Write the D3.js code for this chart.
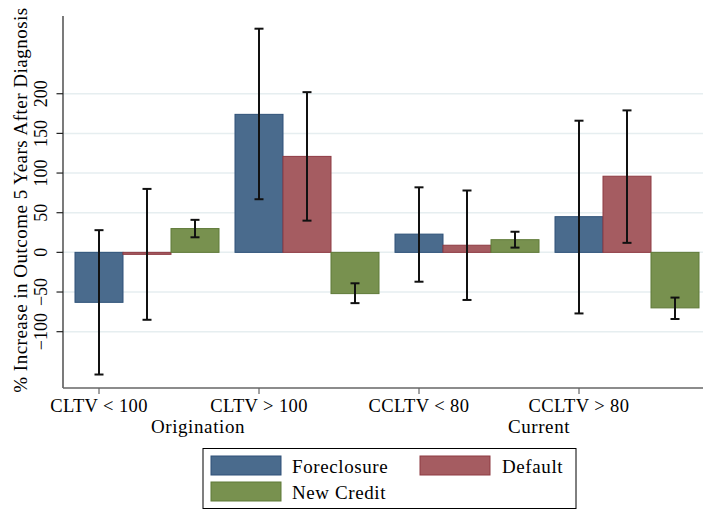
<!DOCTYPE html>
<html>
<head>
<meta charset="utf-8">
<script src="https://cdn.jsdelivr.net/npm/d3@7/dist/d3.min.js"></script>
<style>
  html, body { margin: 0; padding: 0; background: #fff; }
  text { font-family: "Liberation Serif", "DejaVu Serif", serif; fill: #000; }
</style>
</head>
<body>
<svg id="chart" width="703" height="510"></svg>
<script>
const categories = ["CLTV < 100", "CLTV > 100", "CCLTV < 80", "CCLTV > 80"];
const groupLabels = ["Origination", "Current"];
const series = ["Foreclosure", "Default", "New Credit"];
const colors = ["#4a6b8d", "#a55c61", "#78914f"];
const strokes = ["#2e5178", "#8e3a42", "#5f7a38"];
const foreclosure = [-63, 174, 23, 45];
const foreclosureLo = [-154, 67, -37, -77];
const foreclosureHi = [28, 282, 82, 166];
const defaultVals = [-2.5, 121, 9, 96];
const defaultLo = [-85, 40, -60, 12];
const defaultHi = [80, 202, 78, 179];
const newCredit = [30, -52, 16, -70];
const newCreditLo = [19, -64, 6, -84];
const newCreditHi = [41, -39, 26, -57];
const yTicks = [-100, -50, 0, 50, 100, 150, 200];

const values = [foreclosure, defaultVals, newCredit];
const los = [foreclosureLo, defaultLo, newCreditLo];
const his = [foreclosureHi, defaultHi, newCreditHi];

const svg = d3.select("#chart");
const mLeft = 63, mRight = 703, mTop = 16, mBottom = 388;

const y = d3.scaleLinear().domain([-171, 298]).range([mBottom, mTop]);
const x0 = d3.scaleBand().domain(categories).range([67, 707]).padding(0);
const x1 = d3.scaleBand().domain(series).range([8, 152]).padding(0);

// grid
svg.append("g").selectAll("line").data(yTicks).join("line")
  .attr("x1", mLeft).attr("x2", mRight)
  .attr("y1", d => y(d)).attr("y2", d => y(d))
  .attr("stroke", "#e6eef0").attr("stroke-width", 1.5);

// bars
const data = [];
categories.forEach((c, i) => series.forEach((s, j) => data.push({c, s, j, v: values[j][i], lo: los[j][i], hi: his[j][i]})));

svg.append("g").selectAll("rect").data(data).join("rect")
  .attr("x", d => x0(d.c) + x1(d.s))
  .attr("width", x1.bandwidth())
  .attr("y", d => y(Math.max(0, d.v)))
  .attr("height", d => Math.abs(y(d.v) - y(0)))
  .attr("fill", d => colors[d.j])
  .attr("stroke", d => strokes[d.j]).attr("stroke-width", 1);

// error bars
const eb = svg.append("g").attr("stroke", "#111").attr("stroke-width", 2);
data.forEach(d => {
  const cx = x0(d.c) + x1(d.s) + x1.bandwidth() / 2;
  eb.append("line").attr("x1", cx).attr("x2", cx).attr("y1", y(d.lo)).attr("y2", y(d.hi));
  eb.append("line").attr("x1", cx - 4.5).attr("x2", cx + 4.5).attr("y1", y(d.lo)).attr("y2", y(d.lo));
  eb.append("line").attr("x1", cx - 4.5).attr("x2", cx + 4.5).attr("y1", y(d.hi)).attr("y2", y(d.hi));
});

// y axis
svg.append("line").attr("x1", mLeft).attr("x2", mLeft).attr("y1", mTop).attr("y2", mBottom)
  .attr("stroke", "#222").attr("stroke-width", 1.2);
svg.append("g").selectAll("line").data(yTicks).join("line")
  .attr("x1", mLeft - 6.5).attr("x2", mLeft).attr("y1", d => y(d)).attr("y2", d => y(d))
  .attr("stroke", "#222").attr("stroke-width", 1.2);
svg.append("g").selectAll("text").data(yTicks).join("text")
  .attr("transform", d => `translate(47,${y(d)}) rotate(-90)`)
  .attr("text-anchor", "middle").attr("font-size", 18)
  .text(d => d < 0 ? "\u2212" + Math.abs(d) : d);
svg.append("text")
  .attr("transform", "translate(27,200) rotate(-90)")
  .attr("text-anchor", "middle").attr("font-size", 19).attr("letter-spacing", 0.5)
  .text("% Increase in Outcome 5 Years After Diagnosis");

// x axis
svg.append("line").attr("x1", mLeft).attr("x2", mRight).attr("y1", mBottom).attr("y2", mBottom)
  .attr("stroke", "#666").attr("stroke-width", 1.5);
const tickX = c => x0(c) + x1(series[0]) + x1.bandwidth() / 2;
svg.append("g").selectAll("line").data(categories).join("line")
  .attr("x1", tickX).attr("x2", tickX).attr("y1", mBottom).attr("y2", mBottom + 6)
  .attr("stroke", "#666").attr("stroke-width", 1.2);
svg.append("g").selectAll("text").data(categories).join("text")
  .attr("x", tickX).attr("y", 412).attr("text-anchor", "middle").attr("font-size", 18.5)
  .attr("letter-spacing", 0.4)
  .text(d => d);
const groupPos = [198, 539];
svg.append("g").selectAll("text").data(groupLabels).join("text")
  .attr("x", (d, i) => groupPos[i]).attr("y", 433).attr("text-anchor", "middle").attr("font-size", 19)
  .attr("letter-spacing", 0.6)
  .text(d => d);

// legend
const lg = svg.append("g");
lg.append("rect").attr("x", 203).attr("y", 448.5).attr("width", 373).attr("height", 60)
  .attr("fill", "#fff").attr("stroke", "#000").attr("stroke-width", 1);
const legPos = [[211, 456, 292, 473], [420, 456, 502, 473], [211, 482, 292, 499]];
series.forEach((s, j) => {
  const p = legPos[j];
  lg.append("rect").attr("x", p[0]).attr("y", p[1]).attr("width", 70).attr("height", 19)
    .attr("fill", colors[j]).attr("stroke", strokes[j]).attr("stroke-width", 1);
  lg.append("text").attr("x", p[2]).attr("y", p[3]).attr("font-size", 19).attr("letter-spacing", 0.6).text(s);
});
</script>
</body>
</html>
